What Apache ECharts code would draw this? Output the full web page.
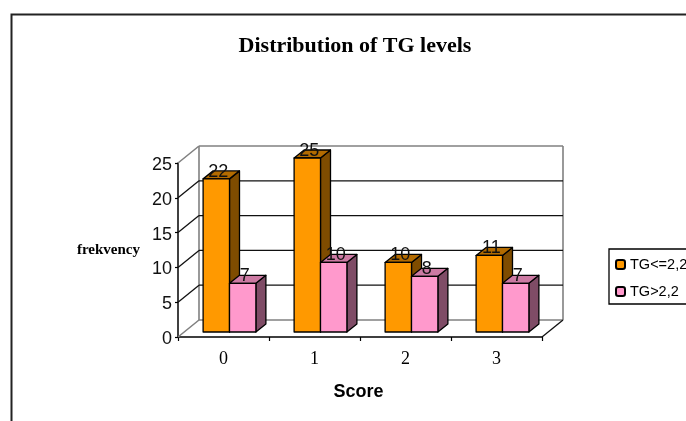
<!DOCTYPE html>
<html><head><meta charset="utf-8">
<style>html,body{margin:0;padding:0;background:#fff;overflow:hidden}#c{width:686px;height:421px}</style>
<script src="https://cdn.jsdelivr.net/npm/echarts@6/dist/echarts.min.js"></script>
</head><body><div id="c"></div>
<script>
const categories = ['0','1','2','3'];
const lowTG = [22,25,10,11];
const highTG = [7,10,8,7];
const yTicks = [0,5,10,15,20,25];
const lowName = 'TG<=2,2';
const highName = 'TG>2,2';
const titleText = 'Distribution of TG levels';
const xTitle = 'Score';
const yTitle = 'frekvency';

const WALL = [21,-17], BAR_SHIFT = [6,-5], BAR_DEPTH = [10,-8];
const chart = echarts.init(document.getElementById('c'));

function barItem(side, fill, sideFill, topFill){
  return function(params, api){
    const v = api.value(1), cat = api.value(0);
    const top = api.coord([cat, v]), base = api.coord([cat, 0]);
    const w = api.size([1,0])[0]*0.29;
    const cx = top[0]+BAR_SHIFT[0];
    const x0 = side<0 ? cx-w : cx, x1 = x0+w;
    const yt = top[1]+BAR_SHIFT[1], yb = base[1]+BAR_SHIFT[1];
    const dx = BAR_DEPTH[0], dy = BAR_DEPTH[1];
    const st = {stroke:'#000',lineWidth:1.3,lineJoin:'round'};
    return {type:'group',children:[
      {type:'polygon',shape:{points:[[x1,yt],[x1+dx,yt+dy],[x1+dx,yb+dy],[x1,yb]]},style:{fill:sideFill,...st}},
      {type:'polygon',shape:{points:[[x0,yt],[x0+dx,yt+dy],[x1+dx,yt+dy],[x1,yt]]},style:{fill:topFill,...st}},
      {type:'rect',shape:{x:x0,y:yt,width:w,height:yb-yt},style:{fill:fill,...st}},
      {type:'text',z2:10,style:{text:String(v),x:(x0+x1)/2+2,y:yt-7,align:'center',verticalAlign:'middle',font:'18px "Liberation Sans"',fill:'#111'}}
    ]};
  };
}
function wallItem(params, api){
  const t = api.value(0);
  const p = api.coord([0,t]);
  const left = api.coord([0,0])[0]-api.size([1,0])[0]/2;
  const right = left+api.size([1,0])[0]*categories.length;
  const edge = (t===0||t===yTicks[yTicks.length-1]);
  const color = edge?'#808080':'#111';
  const lw = edge?1.6:1.3;
  const st = {stroke:color,lineWidth:lw,fill:null};
  const kids = [
    {type:'line',shape:{x1:left,y1:p[1],x2:left+WALL[0],y2:p[1]+WALL[1]},style:st},
    {type:'line',shape:{x1:left+WALL[0],y1:p[1]+WALL[1],x2:right+WALL[0],y2:p[1]+WALL[1]},style:st}
  ];
  if(t===0){
    const topY = api.coord([0,yTicks[yTicks.length-1]])[1];
    const g = {stroke:'#808080',lineWidth:1.6,fill:null};
    kids.push({type:'line',shape:{x1:left+WALL[0],y1:p[1]+WALL[1],x2:left+WALL[0],y2:topY+WALL[1]},style:g});
    kids.push({type:'line',shape:{x1:right+WALL[0],y1:p[1]+WALL[1],x2:right+WALL[0],y2:topY+WALL[1]},style:g});
    kids.push({type:'line',shape:{x1:right,y1:p[1],x2:right+WALL[0],y2:p[1]+WALL[1]},style:{stroke:'#111',lineWidth:1.3}});
  }
  return {type:'group',children:kids};
}

chart.setOption({
  animation:false,
  backgroundColor:'#fff',
  title:{text:titleText,left:350,top:30,textAlign:'center',
    textStyle:{fontFamily:'Liberation Serif',fontWeight:'bold',fontSize:22,color:'#000'}},
  legend:{orient:'vertical',left:609,top:249,padding:[8,20,5,6],itemWidth:9,itemHeight:9,itemGap:12,
    borderColor:'#000',borderWidth:1.3,backgroundColor:'#fff',data:[lowName,highName],
    textStyle:{fontFamily:'Liberation Sans',fontSize:14.5,color:'#000',padding:[0,0,0,0]}},
  grid:{left:178,top:163,width:364,height:174,containLabel:false},
  xAxis:{type:'category',data:categories,boundaryGap:true,
    name:xTitle,nameLocation:'middle',nameGap:46,
    nameTextStyle:{fontFamily:'Liberation Sans',fontWeight:'bold',fontSize:18,color:'#000',padding:[0,3,0,0]},
    axisLine:{lineStyle:{color:'#000',width:1.5}},
    axisTick:{show:true,alignWithLabel:false,length:4,lineStyle:{color:'#000',width:1.2}},
    axisLabel:{fontFamily:'Liberation Serif',fontSize:18,color:'#000',margin:13},
    splitLine:{show:false}},
  yAxis:{type:'value',min:0,max:25,interval:5,
    name:yTitle,nameLocation:'middle',nameRotate:0,nameGap:38,
    nameTextStyle:{fontFamily:'Liberation Serif',fontWeight:'bold',fontSize:15,color:'#000',padding:[2,0,0,0]},
    axisLine:{show:true,lineStyle:{color:'#000',width:1.5}},
    axisTick:{show:true,length:3,lineStyle:{color:'#000',width:1.2}},
    axisLabel:{margin:6,formatter:'{n|{value}}',
      rich:{n:{fontFamily:'Liberation Sans',fontSize:18,color:'#111',padding:[4,0,0,0]}}},
    splitLine:{show:false}},
  graphic:[{type:'rect',silent:true,z:-1,shape:{x:11.5,y:14.5,width:900,height:700},
    style:{fill:null,stroke:'#222',lineWidth:2}}],
  series:[
    {type:'custom',z:1,silent:true,clip:false,renderItem:wallItem,encode:{x:-1,y:0},data:yTicks.map(t=>[t])},
    {type:'custom',z:3,name:lowName,clip:false,itemStyle:{color:'#FF9900',borderColor:'#000',borderWidth:1.3},
      renderItem:barItem(-1,'#FF9900','#7F4C00','#B36B00'),encode:{x:0,y:1},data:lowTG.map((v,i)=>[i,v])},
    {type:'custom',z:4,name:highName,clip:false,itemStyle:{color:'#FF99CC',borderColor:'#000',borderWidth:1.3},
      renderItem:barItem(1,'#FF99CC','#7F4C66','#CC7AA3'),encode:{x:0,y:1},data:highTG.map((v,i)=>[i,v])}
  ]
});
</script></body></html>
